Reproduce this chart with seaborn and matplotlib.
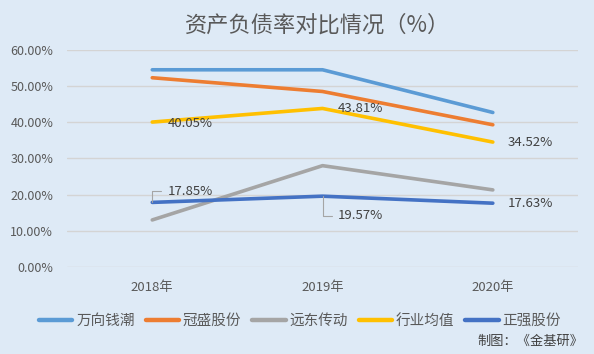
import pandas as pd
import matplotlib
matplotlib.use("Agg")
import matplotlib.pyplot as plt
import seaborn as sns

# values (debt-to-asset ratio, %)
years = ['2018年', '2019年', '2020年']
companies = ['万向钱潮', '冠盛股份', '远东传动', '行业均值', '正强股份']
wanxiang = [54.5, 54.5, 42.7]
guansheng = [52.3, 48.5, 39.3]
yuandong = [13.0, 28.0, 21.3]
industry = [40.05, 43.81, 34.52]
zhengqiang = [17.85, 19.57, 17.63]
colors = ['#5b9bd5', '#ed7d31', '#a5a5a5', '#ffc000', '#4472c4']

series = [wanxiang, guansheng, yuandong, industry, zhengqiang]
rows = []
for name, vals in zip(companies, series):
    for i, (yr, v) in enumerate(zip(years, vals)):
        rows.append({'年份': yr, 'idx': i, '公司': name, '值': v})
df = pd.DataFrame(rows)

sns.set_style('white')
plt.rcParams['font.family'] = ['Noto Sans CJK SC', 'DejaVu Sans']

bg = '#deeaf6'
fig = plt.figure(figsize=(5.94, 3.54), dpi=100, facecolor=bg)
ax = fig.add_axes([0.113, 0.2458, 0.86, 0.6133])
ax.set_facecolor(bg)

sns.lineplot(data=df, x='idx', y='值', hue='公司', hue_order=companies,
             palette=dict(zip(companies, colors)), linewidth=2.6,
             ax=ax, legend=False, sort=False)
for line in ax.lines:
    line.set_solid_capstyle('round')

ax.set_xlim(-0.5, 2.5)
ax.set_ylim(0, 60)
ax.set_xticks(range(len(years)))
ax.set_xticklabels(years)
ax.set_yticks(range(0, 61, 10))
ax.set_yticklabels([f'{v:.2f}%' for v in range(0, 61, 10)])
ax.tick_params(axis='both', length=0, labelsize=9, labelcolor='#595959')
ax.tick_params(axis='x', pad=10, labelsize=9.5)
ax.tick_params(axis='y', pad=10)
ax.set_xlabel('')
ax.set_ylabel('')
ax.grid(axis='y', color='#d4d4d4', linewidth=1)
ax.set_axisbelow(True)
for s in ax.spines.values():
    s.set_visible(False)

# data labels
lab = dict(fontsize=9.5, color='#404040', va='center', ha='left',
           textcoords='offset points')
for i, v in enumerate(industry):
    dy = -1 if i == 0 else 0
    ax.annotate(f'{v:.2f}%', (i, v), xytext=(11, dy), **lab)
ax.annotate(f'{zhengqiang[0]:.2f}%', (0, zhengqiang[0]), xytext=(11, 8),
            arrowprops=dict(arrowstyle='-', color='#a5a5a5', lw=0.8,
                            shrinkA=2, shrinkB=0,
                            connectionstyle='angle,angleA=0,angleB=90,rad=0'),
            **lab)
ax.annotate(f'{zhengqiang[1]:.2f}%', (1, zhengqiang[1]), xytext=(11, -14),
            arrowprops=dict(arrowstyle='-', color='#a5a5a5', lw=0.8,
                            shrinkA=2, shrinkB=0,
                            connectionstyle='angle,angleA=0,angleB=90,rad=0'),
            **lab)
ax.annotate(f'{zhengqiang[2]:.2f}%', (2, zhengqiang[2]), xytext=(11, 0), **lab)

# legend
handles = [plt.Line2D([], [], color=c, linewidth=3.2, solid_capstyle='round')
           for c in colors]
fig.legend(handles, companies, loc='center', bbox_to_anchor=(0.505, 0.093),
           ncol=5, frameon=False, fontsize=10.5, handlelength=2.3,
           handletextpad=0.25, columnspacing=0.75, labelcolor='#595959')

fig.text(0.535, 0.93, '资产负债率对比情况（%）', ha='center', va='center',
         fontsize=16, color='#595959')
fig.text(0.982, 0.035, '制图：《金基研》', ha='right', va='center',
         fontsize=9.5, color='#404040')

fig.savefig('out.png', dpi=100, facecolor=bg)
